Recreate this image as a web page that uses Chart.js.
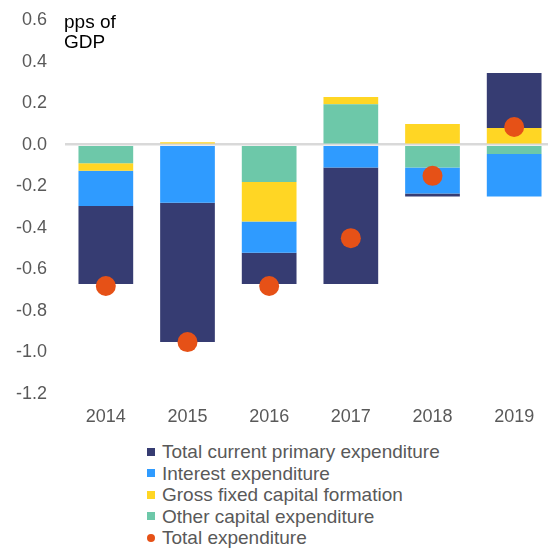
<!DOCTYPE html>
<html>
<head>
<meta charset="utf-8">
<script src="https://cdn.jsdelivr.net/npm/chart.js@4/dist/chart.umd.min.js"></script>
<style>
  html, body { margin: 0; padding: 0; overflow: hidden; background: #fff; width: 548px; height: 549px; }
  #wrap { position: relative; width: 556px; height: 549px; }
  #c { position: absolute; left: 0; top: 0; }
  #unit { position: absolute; left: 64px; top: 12px; font: 19px "Liberation Sans", Arial, sans-serif; line-height: 20px; color: #000; }
  #legend { position: absolute; left: 147px; top: 441px; font: 19px "Liberation Sans", Arial, sans-serif; line-height: 21.5px; color: #595959; }
  #legend .row { display: flex; align-items: center; white-space: nowrap; height: 21.5px; }
  #legend .mk { width: 8px; height: 8px; margin-right: 7px; flex: none; }
</style>
</head>
<body>
<div id="wrap">
  <canvas id="c" width="555" height="433"></canvas>
  <div id="unit">pps of<br>GDP</div>
  <div id="legend"></div>
</div>
<script>
const years = ['2014', '2015', '2016', '2017', '2018', '2019'];
const otherCapital   = [-0.09, 0.0, -0.18, 0.195, -0.11, -0.045];
const grossFixedCap  = [-0.035, 0.012, -0.19, 0.035, 0.10, 0.08];
const interestExp    = [-0.17, -0.28, -0.15, -0.11, -0.125, -0.205];
const currentPrimary = [-0.375, -0.67, -0.15, -0.56, -0.015, 0.265];
const totalExp       = [-0.68, -0.95, -0.68, -0.45, -0.15, 0.085];

const FONT = '"Liberation Sans", Arial, sans-serif';
const barCommon = { borderWidth: 0, categoryPercentage: 1.0, barPercentage: 0.67 };

const datasets = [
  Object.assign({ label: 'Other capital expenditure', data: otherCapital, backgroundColor: '#6DC8A9' }, barCommon),
  Object.assign({ label: 'Gross fixed capital formation', data: grossFixedCap, backgroundColor: '#FFD624' }, barCommon),
  Object.assign({ label: 'Interest expenditure', data: interestExp, backgroundColor: '#2F9BFF' }, barCommon),
  Object.assign({ label: 'Total current primary expenditure', data: currentPrimary, backgroundColor: '#363C72' }, barCommon),
  { type: 'line', label: 'Total expenditure', data: totalExp, stack: 'total', order: -1,
    showLine: false, pointRadius: 10, pointHoverRadius: 10, pointBackgroundColor: '#E65117',
    pointBorderWidth: 0, borderColor: '#E65117', backgroundColor: '#E65117', clip: false }
];

const chart = new Chart(document.getElementById('c'), {
  type: 'bar',
  data: { labels: years, datasets: datasets },
  options: {
    responsive: false,
    animation: false,
    devicePixelRatio: 1,
    layout: { autoPadding: false, padding: { left: 16, top: 20, right: 0, bottom: 7 } },
    plugins: { legend: { display: false }, tooltip: { enabled: false } },
    scales: {
      x: {
        stacked: true,
        grid: { display: false, drawTicks: false },
        border: { display: false },
        ticks: { color: '#595959', font: { family: FONT, size: 18 }, padding: 12 },
        afterFit: (s) => { s.height = 32; s.paddingLeft = 0; s.paddingRight = 0; }
      },
      y: {
        stacked: true,
        min: -1.2, max: 0.6,
        z: 1,
        border: { display: false },
        grid: {
          drawTicks: false,
          lineWidth: 2.5,
          color: (ctx) => (ctx.tick && Math.abs(ctx.tick.value) < 1e-9) ? '#D9D9D9' : 'rgba(0,0,0,0)'
        },
        ticks: {
          stepSize: 0.2,
          padding: 18,
          color: '#595959',
          font: { family: FONT, size: 18 },
          callback: (v) => (Math.abs(v) < 1e-9 ? 0 : v).toFixed(1)
        },
        afterFit: (s) => { s.width = 49; s.paddingTop = 0; s.paddingBottom = 0; s.paddingLeft = 0; s.paddingRight = 0; }
      }
    }
  }
});

// HTML legend (display order as in the reference)
const legendOrder = [3, 2, 1, 0, 4];
const leg = document.getElementById('legend');
legendOrder.forEach(i => {
  const ds = datasets[i];
  const row = document.createElement('div');
  row.className = 'row';
  const mk = document.createElement('span');
  mk.className = 'mk';
  mk.style.background = ds.type === 'line' ? ds.pointBackgroundColor : ds.backgroundColor;
  if (ds.type === 'line') mk.style.borderRadius = '50%';
  const tx = document.createElement('span');
  tx.textContent = ds.label;
  row.appendChild(mk); row.appendChild(tx);
  leg.appendChild(row);
});
</script>
</body>
</html>
